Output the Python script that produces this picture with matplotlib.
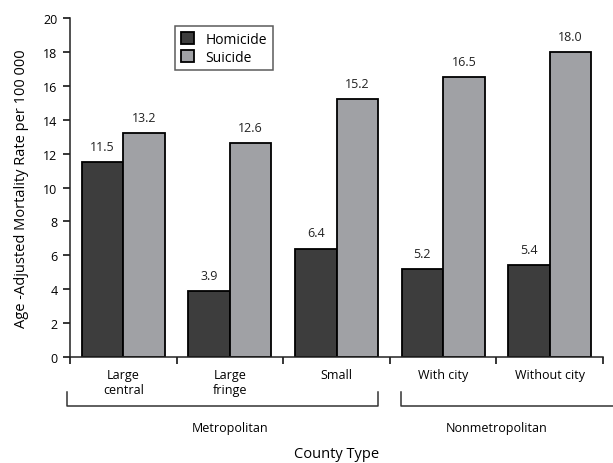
import numpy as np
import matplotlib
matplotlib.use("Agg")
import matplotlib.pyplot as plt
import matplotlib.transforms as mtransforms

plt.rcParams['font.family'] = ['Open Sans', 'DejaVu Sans']

categories = ["Large\ncentral", "Large\nfringe", "Small", "With city", "Without city"]
homicide = [11.5, 3.9, 6.4, 5.2, 5.4]
suicide = [13.2, 12.6, 15.2, 16.5, 18.0]
groups = ["Metropolitan", "Nonmetropolitan"]
group_members = [[0, 1, 2], [3, 4]]

dark = "#3d3d3d"
light = "#a0a1a5"

fig = plt.figure(figsize=(6.13, 4.64), dpi=100)
ax = fig.add_axes([0.1142, 0.2284, 0.8695, 0.7306])

x = np.arange(len(categories))
w = 0.39
ax.bar(x + 0.5 - w / 2, homicide, width=w, color=dark, edgecolor="black",
       linewidth=1.3, label="Homicide")
ax.bar(x + 0.5 + w / 2, suicide, width=w, color=light, edgecolor="black",
       linewidth=1.3, label="Suicide")

for i in range(len(categories)):
    ax.text(x[i] + 0.5 - w / 2, homicide[i] + 0.55, f"{homicide[i]:.1f}",
            ha="center", va="bottom", fontsize=9, color="#222222")
    ax.text(x[i] + 0.5 + w / 2, suicide[i] + 0.55, f"{suicide[i]:.1f}",
            ha="center", va="bottom", fontsize=9, color="#222222")

ax.set_xlim(0, 5)
ax.set_ylim(0, 20)
ax.set_yticks(np.arange(0, 21, 2))
ax.set_xticks(np.arange(0, 6))
ax.set_xticklabels([])
ax.set_xticks(x + 0.5, minor=True)
ax.set_xticklabels(categories, minor=True, fontsize=9, linespacing=1.2)
ax.tick_params(axis="x", which="minor", length=0, pad=8)
ax.tick_params(axis="x", which="major", length=5, width=1.1, direction="out")
ax.tick_params(axis="y", length=5, width=1.1, direction="out", labelsize=9, pad=4)

for side in ["top", "right"]:
    ax.spines[side].set_visible(False)
for side in ["left", "bottom"]:
    ax.spines[side].set_linewidth(1.1)
    ax.spines[side].set_color("#222222")

ax.set_ylabel("Age -Adjusted Mortality Rate per 100 000", fontsize=10.5, labelpad=10)
ax.set_xlabel("County Type", fontsize=10.5)
ax.xaxis.set_label_coords(0.5, -0.286)
ax.xaxis.label.set_va("center")

# group brackets under the category labels
trans = mtransforms.blended_transform_factory(ax.transData, ax.transAxes)
spans = [(-0.03, 2.89), (3.105, 5.4)]
for (x0, x1), name, members in zip(spans, groups, group_members):
    ax.plot([x0, x0, x1, x1], [-0.103, -0.145, -0.145, -0.103], color="#333333",
            linewidth=1.1, transform=trans, clip_on=False)
    cx = (members[0] + members[-1] + 1) / 2
    ax.text(cx, -0.207, name, ha="center", va="center", fontsize=9,
            transform=trans)

leg = ax.legend(loc="upper left", bbox_to_anchor=(0.197, 0.975), fontsize=10,
                frameon=True, fancybox=False, edgecolor="#333333",
                handlelength=0.95, handleheight=0.95, borderpad=0.4,
                labelspacing=0.2, handletextpad=0.85, borderaxespad=0)
leg.get_frame().set_linewidth(1.1)

fig.savefig("out.png", dpi=100)
